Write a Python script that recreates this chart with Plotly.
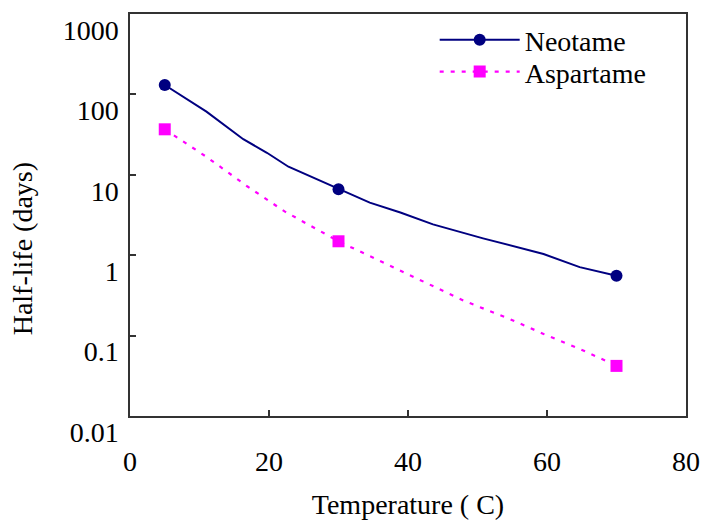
import plotly.graph_objects as go

# Measured data points
temps = [5, 30, 70]
neotame_half_life = [131, 6.6, 0.556]
aspartame_half_life = [36.8, 1.49, 0.042]

# Curves as drawn in the figure
neotame_curve_x = [5, 11.0, 16.3, 19.7, 22.8, 30, 34.5, 38.9, 43.6, 50.8, 59.5, 64.7, 70]
neotame_curve_y = [131, 61.0, 27.7, 18.8, 12.6, 6.6, 4.5, 3.4, 2.42, 1.62, 1.035, 0.71, 0.556]
aspartame_curve_x = [5, 11.1, 16.8, 22.3, 30, 41.7, 48.0, 54.7, 59.5, 64.5, 70]
aspartame_curve_y = [36.8, 16.5, 7.26, 3.48, 1.49, 0.492, 0.272, 0.160, 0.105, 0.0695, 0.0423]

y_tickvals = [0.01, 0.1, 1, 10, 100, 1000]
y_ticktext = ["0.01", "0.1", "1", "10", "100", "1000"]
x_tickvals = [0, 20, 40, 60, 80]

NAVY = "#000080"
MAGENTA = "#FF00FF"
FONT = "Liberation Serif"
TXT = dict(family=FONT, size=28, color="black")

fig = go.Figure()

fig.add_trace(go.Scatter(x=neotame_curve_x, y=neotame_curve_y, mode="lines",
                         line=dict(color=NAVY, width=2), showlegend=False, hoverinfo="skip"))
fig.add_trace(go.Scatter(x=aspartame_curve_x, y=aspartame_curve_y, mode="lines",
                         line=dict(color=MAGENTA, width=2.2, dash="4px,7px"), showlegend=False, hoverinfo="skip"))
fig.add_trace(go.Scatter(x=temps, y=neotame_half_life, mode="markers",
                         marker=dict(color=NAVY, size=12, symbol="circle"), showlegend=False))
fig.add_trace(go.Scatter(x=temps, y=aspartame_half_life, mode="markers",
                         marker=dict(color=MAGENTA, size=12, symbol="square"), showlegend=False))
# legend entries
fig.add_trace(go.Scatter(x=[None], y=[None], mode="lines+markers", name="Neotame",
                         line=dict(color=NAVY, width=2),
                         marker=dict(color=NAVY, size=12, symbol="circle"), legend="legend"))
fig.add_trace(go.Scatter(x=[None], y=[None], mode="lines+markers", name="Aspartame",
                         line=dict(color=MAGENTA, width=2.2, dash="4px,7px"),
                         marker=dict(color=MAGENTA, size=12, symbol="square"), legend="legend2"))

axis_line = dict(showline=True, linecolor="#333333", linewidth=1.5, mirror=True,
                 ticks="inside", ticklen=6, tickcolor="#333333", tickwidth=1.5,
                 showgrid=False, zeroline=False, automargin=False, tickfont=TXT)

legend_common = dict(xanchor="left", yanchor="middle", bgcolor="rgba(0,0,0,0)",
                     itemwidth=80, font=TXT)

fig.update_layout(
    width=704, height=520,
    margin=dict(l=130, r=18, t=14, b=104, autoexpand=False),
    paper_bgcolor="white", plot_bgcolor="white",
    font=TXT,
    xaxis=dict(range=[0, 80], tickvals=x_tickvals,
               title=dict(text="Temperature ( C)", standoff=24, font=TXT),
               ticklabelstandoff=20, **axis_line),
    yaxis=dict(type="log", range=[-2, 3], tickvals=y_tickvals, ticktext=y_ticktext,
               ticklabelshift=16, ticklabelstandoff=4, **axis_line),
    legend=dict(x=0.548, y=0.935, **legend_common),
    legend2=dict(x=0.548, y=0.856, **legend_common),
    annotations=[dict(text="Half-life (days)", textangle=-90, font=TXT,
                      xref="paper", yref="paper", x=-0.194, y=0.415,
                      xanchor="center", yanchor="middle", showarrow=False)],
)

fig.write_html("out.html")
